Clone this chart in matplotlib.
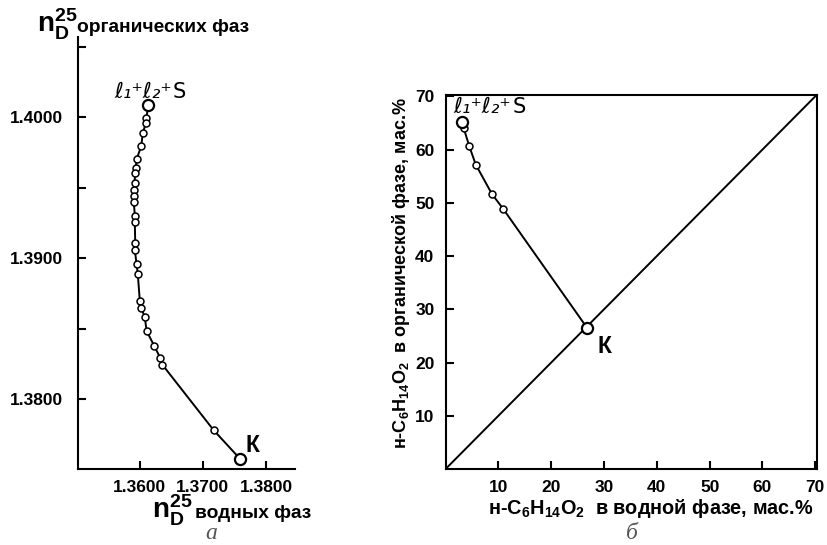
import matplotlib
matplotlib.use("Agg")
import matplotlib.pyplot as plt

plt.rcParams['font.family'] = ['Liberation Sans', 'DejaVu Sans']
plt.rcParams['font.weight'] = 'bold'
plt.rcParams['mathtext.fontset'] = 'custom'
plt.rcParams['mathtext.rm'] = 'Liberation Sans:bold'
plt.rcParams['mathtext.bf'] = 'Liberation Sans:bold'
plt.rcParams['mathtext.it'] = 'Liberation Sans:bold'

# ---- Panel a: refractive indices ----
n_water = [1.36137, 1.36101, 1.36095, 1.36047, 1.36022, 1.35948, 1.35937, 1.35927,
           1.35916, 1.35912, 1.35905, 1.35905, 1.35921, 1.35921, 1.35927, 1.35921,
           1.35948, 1.35968, 1.36000, 1.36022, 1.36079, 1.36106, 1.36227, 1.36327,
           1.36359, 1.37169, 1.37591]
n_org = [1.40085, 1.39993, 1.39960, 1.39887, 1.39796, 1.39702, 1.39638, 1.39607,
         1.39532, 1.39484, 1.39442, 1.39399, 1.39302, 1.39255, 1.39111, 1.39059,
         1.38962, 1.38887, 1.38699, 1.38645, 1.38586, 1.38487, 1.38380, 1.38291,
         1.38245, 1.37782, 1.37577]
a_xticks = [1.36, 1.37, 1.38]
a_xticklabels = ["1.3600", "1.3700", "1.3800"]
a_yticks = [1.38, 1.385, 1.39, 1.395, 1.40, 1.405]
a_yticklabels = ["1.3800", "", "1.3900", "", "1.4000", ""]

# ---- Panel b: distribution ----
b_water = [3.05, 3.4, 4.5, 5.7, 8.75, 10.95, 26.8]
b_org = [65.1, 64.1, 60.6, 57.2, 51.7, 48.8, 26.5]
b_diag = [0, 70.35]
b_ticks = [10, 20, 30, 40, 50, 60, 70]

W, H = 828, 545
fig = plt.figure(figsize=(W/100, H/100), dpi=100)

def fx(px):
    return px / W

def fy(py):
    return 1 - py / H

def ell_label(ax, x, y, ha):
    t = ax.text(x, y, "ℓ₁⁺ℓ₂⁺", family='DejaVu Sans', style='italic',
                fontweight='normal', fontsize=15.5, ha=ha, va='baseline')
    ax.annotate("S", xy=(1, 0), xycoords=t, xytext=(1, 0), textcoords='offset points',
                family='DejaVu Sans', fontweight='normal', fontsize=15,
                ha='left', va='bottom')
    return t

# Panel a
ax1 = fig.add_axes([fx(78), fy(469), 217/W, 432.3/H])
ax1.plot(n_water, n_org, color='black', lw=1.4, zorder=2)
ax1.plot(n_water[1:-1], n_org[1:-1], 'o', ms=5, mfc='white', mec='black', mew=1.1, zorder=3)
ax1.plot([n_water[0], n_water[-1]], [n_org[0], n_org[-1]], 'o', ms=8, mfc='white',
         mec='black', mew=1.6, zorder=4)
ax1.set_xlim(1.3502, 1.3846)
ax1.set_ylim(1.37506, 1.40572)
ax1.spines['top'].set_visible(False)
ax1.spines['right'].set_visible(False)
for s in ['left', 'bottom']:
    ax1.spines[s].set_linewidth(1.5)
ax1.set_xticks(a_xticks)
ax1.set_xticklabels(a_xticklabels)
ax1.set_yticks(a_yticks)
ax1.set_yticklabels(a_yticklabels)
ax1.tick_params(direction='in', length=6, width=1.5, labelsize=12.5)
ax1.tick_params(axis='x', pad=8)
ax1.tick_params(axis='y', pad=11)
for lab in ax1.get_xticklabels() + ax1.get_yticklabels():
    lab.set_fontweight('bold')
ax1.text(1.37670, 1.37590, "К", fontsize=16.5, fontweight='bold', ha='left', va='bottom')
ell_label(ax1, 1.35590, 1.40140, 'left')

# top-left axis title
fig.text(fx(37), fy(33), r"$\mathbf{n}_{\mathbf{D}}^{\mathbf{25}}$", fontsize=20,
         ha='left', va='baseline')
fig.text(fx(77), fy(32), "органических фаз", fontsize=13.8, fontweight='bold',
         ha='left', va='baseline')
# bottom axis title
fig.text(fx(152), fy(519), r"$\mathbf{n}_{\mathbf{D}}^{\mathbf{25}}$", fontsize=20,
         ha='left', va='baseline')
fig.text(fx(195), fy(518), "водных фаз", fontsize=13.8, fontweight='bold',
         ha='left', va='baseline')
fig.text(fx(211), fy(539), "а", fontsize=17, family='Liberation Serif', style='italic',
         fontweight='normal', color='#555555', ha='center', va='baseline')

# Panel b
ax2 = fig.add_axes([fx(445.6), fy(469), 371.5/W, 374.5/H])
ax2.plot(b_diag, b_diag, color='black', lw=1.4, zorder=2)
ax2.plot(b_water, b_org, color='black', lw=1.4, zorder=2)
ax2.plot(b_water[1:-1], b_org[1:-1], 'o', ms=5, mfc='white', mec='black', mew=1.1, zorder=3)
ax2.plot([b_water[0], b_water[-1]], [b_org[0], b_org[-1]], 'o', ms=8, mfc='white',
         mec='black', mew=1.6, zorder=4)
ax2.set_xlim(0, 70.35)
ax2.set_ylim(0, 70.35)
for s in ax2.spines.values():
    s.set_linewidth(1.5)
ax2.set_xticks(b_ticks)
ax2.set_yticks(b_ticks)
ax2.tick_params(direction='in', length=6, width=1.5, labelsize=12.5, pad=8)
for lab in ax2.get_xticklabels() + ax2.get_yticklabels():
    lab.set_fontweight('bold')
ax2.text(28.7, 25.2, "К", fontsize=16.5, fontweight='bold', ha='left', va='top')
ell_label(ax2, 1.5, 66.8, 'left')
fig.text(fx(651), fy(514), r"н-C$_{6}$H$_{14}$O$_{2}$  в водной фазе, мас.%",
         fontsize=14.3, fontweight='bold', ha='center', va='baseline')
fig.text(fx(401), fy(273), r"н-C$_{6}$H$_{14}$O$_{2}$  в органической фазе, мас.%",
         fontsize=13, fontweight='bold', rotation=90, ha='center', va='center')
fig.text(fx(632), fy(539), "б", fontsize=17, family='Liberation Serif', style='italic',
         fontweight='normal', color='#555555', ha='center', va='baseline')

fig.savefig("out.png", dpi=100)
